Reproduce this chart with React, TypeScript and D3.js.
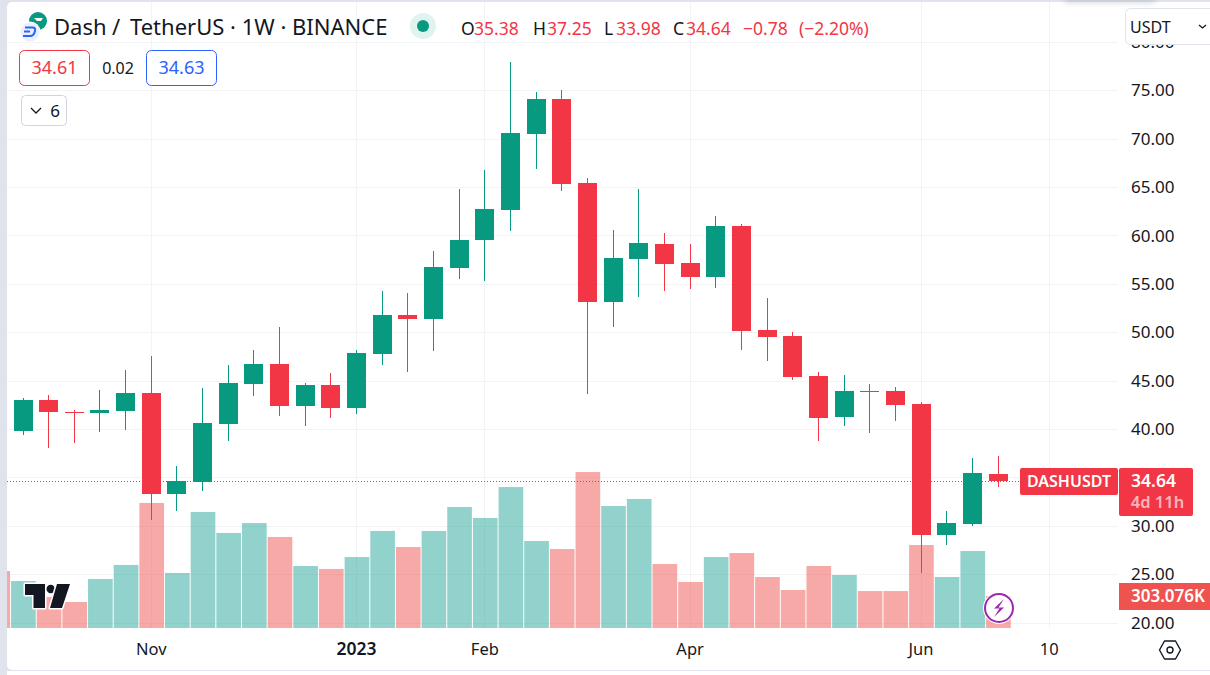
import React from 'react'
import * as d3 from 'd3'

const opens = [39.8, 43, 41.76, 41.66, 41.86, 43.72, 33.29, 34.53, 40.52, 44.65, 46.72, 42.38, 44.55, 42.17, 47.75, 51.78, 51.37, 56.64, 59.53, 62.63, 70.48, 74.1, 65.42, 53.12, 57.57, 59.12, 57.16, 55.71, 60.98, 50.23, 49.61, 45.48, 41.24, 43.93, 43.93, 42.59, 29.05, 30.19, 35.38]
const highs = [43.21, 43.52, 41.97, 44.03, 46.1, 47.55, 36.18, 44.24, 46.62, 48.17, 50.54, 44.76, 45.79, 48.17, 54.26, 54.06, 58.4, 64.8, 66.77, 77.92, 74.82, 75.03, 65.94, 60.57, 64.8, 60.26, 59.12, 62.01, 61.19, 53.54, 50.03, 45.89, 45.58, 44.65, 44.34, 42.79, 31.53, 37.01, 37.25]
const lows = [39.38, 38.04, 38.56, 39.69, 39.9, 30.6, 31.53, 33.6, 38.76, 43.41, 41.35, 40.31, 41.14, 41.55, 46.62, 45.89, 48.06, 55.5, 55.3, 60.46, 66.87, 64.59, 43.62, 50.54, 53.64, 54.26, 54.47, 54.57, 48.17, 47.03, 45.07, 38.76, 40.31, 39.59, 40.83, 25.12, 28.02, 29.98, 33.98]
const closes = [43, 41.76, 41.66, 41.97, 43.72, 33.29, 34.63, 40.62, 44.76, 46.72, 42.38, 44.55, 42.17, 47.86, 51.78, 51.37, 56.74, 59.53, 62.73, 70.59, 74.1, 65.32, 53.12, 57.67, 59.22, 57.05, 55.71, 60.98, 50.13, 49.51, 45.38, 41.14, 43.93, 43.83, 42.49, 29.05, 30.3, 35.46, 34.64]
// volume in thousands, first entry is the bar cut off by the left edge
const volumes = [540, 445, 294, 246, 464, 597, 1184, 521, 1099, 900, 994, 862, 587, 559, 672, 919, 767, 919, 1146, 1042, 1335, 824, 748, 1477, 1155, 1222, 606, 436, 672, 710, 483, 360, 587, 502, 350, 350, 786, 483, 729, 303]
const volumeUp = [false, true, false, false, true, true, false, true, true, true, true, false, true, false, true, true, false, true, true, true, true, true, false, false, true, true, false, false, true, false, false, false, false, true, false, false, false, true, true, false]

const priceTicks = [80, 75, 70, 65, 60, 55, 50, 45, 40, 35, 30, 25, 20]
// 35.00 sits behind the last price label, so it is never drawn
const hiddenPriceLabels = [35]
const timeTicks: [number, string][] = [[5, 'Nov'], [13, '2023'], [18, 'Feb'], [26, 'Apr'], [35, 'Jun'], [40, '10']]

const lastPrice = 34.64
const GREEN = '#089981'
const RED = '#f23645'
const TEXT = '#131722'
const BORDER = '#e0e3eb'
const FONT = '"Noto Sans", sans-serif'

const x = d3.scaleLinear().domain([0, 38]).range([23, 998])
const y = d3.scaleLinear().domain([75, 20]).range([90.3, 622.6])
const vol = d3.scaleLinear().domain([0, 303.076]).range([628, 596])

function snap(v: number) {
  return Math.round(v)
}

export default function App() {
  const bodyW = 19
  const volW = x(1) - x(0) - 1
  return (
    <svg
      width={1210}
      height={675}
      style={{ position: 'fixed', left: 0, top: 0, background: '#fff' }}
      fontFamily={FONT}
    >
      <defs>
        <filter id="blur" x="-20%" y="-200%" width="140%" height="500%">
          <feGaussianBlur stdDeviation="3" />
        </filter>
        <clipPath id="plot">
          <rect x={7} y={2} width={1111} height={626} />
        </clipPath>
        <clipPath id="axis">
          <rect x={1118} y={45} width={92} height={590} />
        </clipPath>
      </defs>

      {/* frame */}
      <rect width={1210} height={675} fill={BORDER} />
      <rect x={7} y={2} width={1220} height={668} rx={5} fill="#fff" />
      <rect x={7} y={671} width={1203} height={4} fill="#fff" />
      <rect x={1065} y={-3} width={90} height={5} fill="#9aa0b0" opacity={0.55} filter="url(#blur)" />

      {/* grid */}
      <g stroke="#f2f3f5" strokeWidth={1}>
        {priceTicks.map((t) => (
          <line key={t} x1={7} x2={1118} y1={snap(y(t)) + 0.5} y2={snap(y(t)) + 0.5} />
        ))}
        {timeTicks.map(([i]) => (
          <line key={i} x1={Math.floor(x(i)) + 0.5} x2={Math.floor(x(i)) + 0.5} y1={2} y2={628} />
        ))}
      </g>

      {/* volume */}
      <g clipPath="url(#plot)">
        {volumes.map((v, k) => {
          const i = k - 1
          return (
            <rect
              key={k}
              x={x(i) + 0.4 - volW / 2}
              y={vol(v)}
              width={volW}
              height={vol(0) - vol(v)}
              fill={volumeUp[k] ? '#26a69a' : '#ef5350'}
              opacity={0.5}
            />
          )
        })}
      </g>

      {/* last price line */}
      <line
        x1={7}
        x2={1118}
        y1={snap(y(lastPrice)) + 0.5}
        y2={snap(y(lastPrice)) + 0.5}
        stroke={RED}
        strokeWidth={1}
        strokeDasharray="1 2"
      />

      {/* candles */}
      <g shapeRendering="crispEdges">
        {opens.map((o, i) => {
          const c = closes[i]
          const color = c >= o ? GREEN : RED
          const cx = Math.floor(x(i))
          const top = snap(y(Math.max(o, c)))
          const bottom = snap(y(Math.min(o, c)))
          return (
            <g key={i} fill={color}>
              <rect x={cx} y={snap(y(highs[i]))} width={1} height={snap(y(lows[i])) - snap(y(highs[i]))} />
              <rect x={cx - (bodyW - 1) / 2} y={top} width={bodyW} height={Math.max(bottom - top, 1)} />
            </g>
          )
        })}
      </g>

      {/* tradingview logo */}
      <g fill={TEXT} stroke="#fff" strokeWidth={3} paintOrder="stroke" strokeLinejoin="round">
        <path d="M25 584H45V608H33.5V595H25Z" />
        <circle cx={50.7} cy={589} r={4.2} />
        <path d="M57 584H70L62 608H50Z" />
      </g>

      {/* lightning badge */}
      <circle cx={999} cy={608} r={16} fill="#fff" />
      <circle cx={999} cy={608} r={14} fill="#fff" stroke="#9c27b0" strokeWidth={2} />
      <path d="M1004 599L994 608.5H999.5L994 617L1004 607.5H998.5Z" fill="#9c27b0" />

      {/* price axis */}
      <g fill={TEXT} fontSize={17} clipPath="url(#axis)">
        {priceTicks
          .filter((t) => !hiddenPriceLabels.includes(t))
          .map((t) => (
            <text key={t} x={1131} y={y(t)} dy="0.36em">
              {t.toFixed(2)}
            </text>
          ))}
      </g>

      {/* time axis */}
      <g fill={TEXT} fontSize={16.5} textAnchor="middle">
        {timeTicks.map(([i, label]) => (
          <text
            key={i}
            x={x(i)}
            y={655}
            fontWeight={label === '2023' ? 600 : 400}
            fontSize={label === '2023' ? 17.5 : undefined}
          >
            {label}
          </text>
        ))}
      </g>
      <g transform="translate(1170,650)" fill="none" stroke={TEXT} strokeWidth={1.4}>
        <path d="M-10.5 0L-5.5 -9H5.5L10.5 0L5.5 9H-5.5Z" strokeLinejoin="round" />
        <circle r={3} />
      </g>

      {/* price labels */}
      <rect x={1020} y={468} width={98} height={27} rx={2} fill={RED} />
      <text x={1069} y={487} fill="#fff" fontSize={16} fontWeight={600} textAnchor="middle">
        DASHUSDT
      </text>
      <rect x={1119} y={468} width={74} height={48} rx={2} fill={RED} />
      <text x={1153.5} y={487} fill="#fff" fontSize={17.5} fontWeight={600} textAnchor="middle">
        34.64
      </text>
      <text x={1157.5} y={508} fill="#fff" fillOpacity={0.65} fontSize={16.5} fontWeight={600} textAnchor="middle">
        4d 11h
      </text>
      <rect x={1119} y={583} width={91} height={27} fill="#ef5350" />
      <text x={1168} y={602} fill="#fff" fontSize={17} fontWeight={600} textAnchor="middle">
        303.076K
      </text>

      {/* currency button */}
      <rect x={1125.5} y={8.5} width={100} height={36} rx={5} fill="#fff" stroke={BORDER} />
      <text x={1130} y={33} fill={TEXT} fontSize={16}>
        USDT
      </text>
      <path d="M1199 25L1202.5 28L1206 25" fill="none" stroke={TEXT} strokeWidth={1.3} />

      {/* header */}
      <circle cx={38} cy={21} r={9} fill={GREEN} />
      <path d="M34 18H43L41 21H37Z" fill="#fff" />
      <circle cx={30} cy={32} r={10.5} fill="#fff" />
      <circle cx={30} cy={32} r={9.5} fill="#eaf0fe" />
      <path d="M25 27.5H32.5C35 27.5 35.5 29 35 31C34.5 33.5 33 36 30 36H23" fill="none" stroke="#2962ff" strokeWidth={2} />
      <path d="M24 31.5H30" stroke="#2962ff" strokeWidth={2} />
      <g fill={TEXT} fontSize={22}>
        <text x={54} y={35}>Dash</text>
        <text x={112} y={35}>/</text>
        <text x={130} y={35}>TetherUS · 1W · BINANCE</text>
      </g>
      <circle cx={423} cy={26} r={13} fill="#dff3ef" />
      <circle cx={423} cy={26} r={6} fill={GREEN} />
      <g fontSize={17.5}>
        {[
          ['O', 461, TEXT], ['35.38', 474, RED],
          ['H', 533, TEXT], ['37.25', 547, RED],
          ['L', 604, TEXT], ['33.98', 616, RED],
          ['C', 673, TEXT], ['34.64', 686, RED],
          ['−0.78', 743, RED], ['(−2.20%)', 799, RED],
        ].map(([t, px, color]) => (
          <text key={t as string} x={px as number} y={35} fill={color as string}>
            {t}
          </text>
        ))}
      </g>

      {/* bid / ask */}
      <rect x={19.5} y={50.5} width={70} height={35} rx={5} fill="#fff" stroke={RED} />
      <text x={54.5} y={74} fill={RED} fontSize={18} textAnchor="middle">
        34.61
      </text>
      <text x={118} y={74} fill={TEXT} fontSize={16} textAnchor="middle">
        0.02
      </text>
      <rect x={146.5} y={50.5} width={70} height={35} rx={5} fill="#fff" stroke="#2962ff" />
      <text x={181.5} y={74} fill="#2962ff" fontSize={18} textAnchor="middle">
        34.63
      </text>
      <rect x={21.5} y={95.5} width={45} height={30} rx={4} fill="#fff" stroke="#d1d4dc" />
      <path d="M31 108L36 113L41 108" fill="none" stroke={TEXT} strokeWidth={1.3} />
      <text x={55} y={117} fill={TEXT} fontSize={17} textAnchor="middle">
        6
      </text>
    </svg>
  )
}
